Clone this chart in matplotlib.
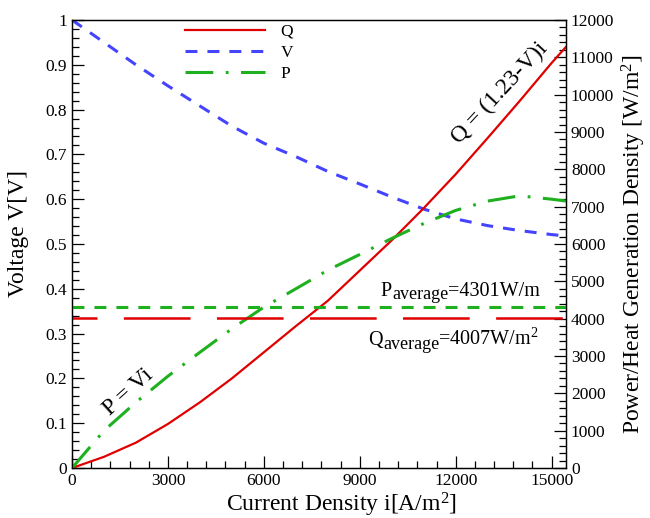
import matplotlib
matplotlib.use("Agg")
import matplotlib.pyplot as plt
from matplotlib.ticker import MultipleLocator, FuncFormatter

plt.rcParams['font.family'] = ['Liberation Serif', 'DejaVu Serif']
plt.rcParams['mathtext.fontset'] = 'custom'
plt.rcParams['mathtext.rm'] = 'Liberation Serif'
plt.rcParams['mathtext.it'] = 'Liberation Serif:italic'
plt.rcParams['lines.scale_dashes'] = False

# Current density grid [A/m^2]
current = [0, 1000, 2000, 3000, 4000, 5000, 6000, 7000, 8000, 9000,
           10000, 11000, 12000, 13000, 14000, 15000, 15450]
# Cell voltage [V]
voltage = [1.0, 0.95, 0.90, 0.853, 0.808, 0.763, 0.725, 0.695, 0.662, 0.634,
           0.605, 0.578, 0.556, 0.541, 0.530, 0.521, 0.518]
# Heat generation density Q [W/m^2]
heat = [0, 300, 680, 1180, 1760, 2400, 3100, 3800, 4480, 5290,
        6100, 6960, 7870, 8840, 9830, 10850, 11280]
# Power density P [W/m^2]
power = [0, 1000, 1760, 2460, 3100, 3730, 4310, 4800, 5300, 5720,
         6150, 6550, 6900, 7150, 7290, 7200, 7150]

p_average = 4301
q_average = 4007

RED = '#e00000'
BLUE = '#4444ff'
GREEN = '#1fb01f'

fig = plt.figure(figsize=(6.5, 5.18), dpi=100)
ax = fig.add_axes([0.1108, 0.0965, 0.76, 0.8649])
ax2 = ax.twinx()

lq, = ax2.plot(current, heat, color=RED, lw=1.6, label='Q')
lv, = ax.plot(current, voltage, color=BLUE, lw=2.2, linestyle=(0, (8.6, 7.2)), label='V')
lp, = ax2.plot(current, power, color=GREEN, lw=2.2,
               linestyle=(0, (20, 9, 2, 9)), label='P')

ax2.axhline(p_average, color=GREEN, lw=2.2, linestyle=(0, (8.6, 7.2)))
ax2.axhline(q_average, color=RED, lw=1.8, linestyle=(30, (48, 19)))

ax.set_xlim(0, 15450)
ax.set_ylim(0, 1)
ax2.set_ylim(0, 12000)

ax.xaxis.set_major_locator(MultipleLocator(3000))
ax.xaxis.set_minor_locator(MultipleLocator(600))
ax.yaxis.set_major_locator(MultipleLocator(0.1))
ax.yaxis.set_minor_locator(MultipleLocator(0.02))
ax2.yaxis.set_major_locator(MultipleLocator(1000))
ax2.yaxis.set_minor_locator(MultipleLocator(200))

ax.yaxis.set_major_formatter(FuncFormatter(lambda v, p: f'{v:g}'))

for a in (ax, ax2):
    a.tick_params(which='major', direction='in', length=8.5, width=0.9, labelsize=12.5)
    a.tick_params(which='minor', direction='in', length=5, width=0.9)
    for s in a.spines.values():
        s.set_linewidth(0.9)
ax.tick_params(top=False, which='both')
ax.tick_params(axis='y', which='both', right=False)
ax2.tick_params(axis='y', which='both', left=False)

ax.set_xlabel('Current Density i[A/m$^2$]', fontsize=17)
ax.xaxis.set_label_coords(0.545, -0.051)
ax.set_ylabel('Voltage V[V]', fontsize=17)
ax.yaxis.set_label_coords(-0.087, 0.524)
ax2.set_ylabel('Power/Heat Generation Density [W/m$^2$]', fontsize=17, labelpad=4)

ax.text(0.866, 0.837, 'Q = (1.23-V)i', transform=ax.transAxes, fontsize=17,
        rotation=47, ha='center', va='center')
ax.text(0.113, 0.170, 'P = Vi', transform=ax.transAxes, fontsize=17,
        rotation=42, ha='center', va='center')

# average labels, subscripts set at nearly full size
ax.text(0.6235, 0.3839, 'P', transform=ax.transAxes, fontsize=14.5, va='baseline')
ax.text(0.6478, 0.3772, 'average', transform=ax.transAxes, fontsize=13, va='baseline')
ax.text(0.7611, 0.3839, f'={p_average}W/m', transform=ax.transAxes, fontsize=14.5,
        va='baseline')
ax.text(0.5992, 0.2746, 'Q', transform=ax.transAxes, fontsize=14.5, va='baseline')
ax.text(0.6296, 0.2656, 'average', transform=ax.transAxes, fontsize=13, va='baseline')
ax.text(0.7409, 0.2746, f'={q_average}W/m$^2$', transform=ax.transAxes, fontsize=14.5,
        va='baseline')

ax2.legend([lq, lv, lp], ['Q', 'V', 'P'], loc='upper left',
           bbox_to_anchor=(0.222, 1.0), frameon=False, fontsize=12.5,
           handlelength=4.6, handletextpad=0.9, labelspacing=0.3,
           borderaxespad=0, borderpad=0.2)

fig.savefig('out.png', dpi=100)
